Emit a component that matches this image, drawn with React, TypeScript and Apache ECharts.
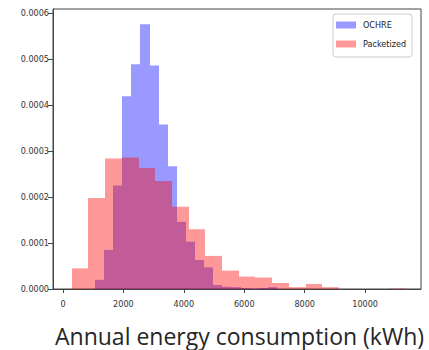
import React, { useEffect, useRef } from "react";
import * as echarts from "echarts";

// Histogram bin edges (kWh) and densities
const ochreEdges = [1060, 1361, 1662, 1963, 2264, 2565, 2866, 3167, 3468, 3769, 4070, 4371, 4672, 4973, 5274, 5575, 5876, 6177, 6478, 6779, 7080];
const ochreDensity = [0.00002, 0.000085, 0.000225, 0.000419, 0.000489, 0.000576, 0.000486, 0.000358, 0.000267, 0.000146, 0.000103, 0.000063, 0.000047, 0.0000087, 0.000005, 0.000004, 0.000002, 0.000001, 0.000002, 0.000004];
const packetEdges = [288, 841, 1394, 1947, 2500, 3053, 3606, 4159, 4712, 5265, 5818, 6371, 6924, 7477, 8030, 8583, 9136, 9689, 10242, 10795, 11348];
const packetDensity = [0.000045, 0.000198, 0.000284, 0.000286, 0.000263, 0.000235, 0.000179, 0.00013, 0.000072, 0.00004, 0.000027, 0.000025, 0.000013, 0.000004, 0.000011, 0.000004, 0, 0, 0, 0.000001];

const seriesNames = ["OCHRE", "Packetized"];
const xTicks = [0, 2000, 4000, 6000, 8000, 10000];
const yTicks = [0, 0.0001, 0.0002, 0.0003, 0.0004, 0.0005, 0.0006];
const xTitle = "Annual energy consumption (kWh)";

const COLORS = ["rgba(0,0,255,0.4)", "rgba(255,0,0,0.4)"];
const TICK_FONT = "'DejaVu Sans Condensed', 'Liberation Sans Narrow', 'Liberation Sans', sans-serif";

function bins(edges: number[], dens: number[]) {
  return dens.map((d, i) => [edges[i], edges[i + 1], d]);
}

function histSeries(name: string, data: number[][], color: string) {
  return {
    type: "custom",
    name,
    data,
    itemStyle: { color },
    encode: { x: [0, 1], y: 2 },
    renderItem: (_params: any, api: any) => {
      const x0 = api.value(0);
      const x1 = api.value(1);
      const h = api.value(2);
      const pTop = api.coord([x0, h]);
      const pBot = api.coord([x1, 0]);
      const left = Math.round(pTop[0]);
      const right = Math.round(pBot[0]);
      return {
        type: "rect",
        shape: {
          x: left,
          y: pTop[1],
          width: right - left,
          height: pBot[1] - pTop[1],
        },
        style: { fill: color },
      };
    },
  };
}

export default function App() {
  const ref = useRef<HTMLDivElement>(null);
  useEffect(() => {
    if (!ref.current) return;
    const chart = echarts.init(ref.current, undefined, { renderer: "svg" });
    chart.setOption({
      animation: false,
      backgroundColor: "#ffffff",
      grid: {
        left: 53,
        right: 8,
        top: 9,
        bottom: 61,
        show: true,
        borderColor: "#444",
        borderWidth: 1,
        backgroundColor: "transparent",
      },
      xAxis: {
        type: "value",
        min: -330,
        max: 11850,
        splitLine: { show: false },
        axisLine: { show: true, onZero: false, lineStyle: { color: "#444", width: 1 } },
        axisTick: { show: true, length: 4, customValues: xTicks, lineStyle: { color: "#444" } },
        axisLabel: {
          customValues: xTicks,
          margin: 10,
          fontSize: 9,
          color: "#333",
          fontFamily: TICK_FONT,
          formatter: (v: number) => String(v),
        },
      },
      yAxis: {
        type: "value",
        min: 0,
        max: 0.000609,
        splitLine: { show: false },
        axisLine: { show: true, onZero: false, lineStyle: { color: "#444", width: 1 } },
        axisTick: { show: true, length: 5, customValues: yTicks, lineStyle: { color: "#444" } },
        axisLabel: {
          customValues: yTicks,
          margin: 4,
          fontSize: 9,
          color: "#333",
          fontFamily: TICK_FONT,
          formatter: (v: number) => v.toFixed(4),
        },
      },
      legend: {
        data: seriesNames,
        orient: "vertical",
        left: 333,
        top: 14,
        icon: "rect",
        itemWidth: 20,
        itemHeight: 7,
        itemGap: 7,
        padding: [5, 6, 7, 3],
        borderColor: "#ccc",
        borderWidth: 1,
        borderRadius: 3,
        backgroundColor: "rgba(255,255,255,0.8)",
        textStyle: { fontSize: 9, color: "#222", fontFamily: TICK_FONT, lineHeight: 12, padding: [0, 0, 0, 2] },
      },
      graphic: [
        {
          type: "text",
          left: 55,
          top: 324,
          style: {
            text: xTitle,
            fontSize: 23,
            fontFamily: "'Open Sans', 'Noto Sans', sans-serif",
            fill: "#262626",
          },
        },
      ],
      series: [
        histSeries(seriesNames[0], bins(ochreEdges, ochreDensity), COLORS[0]),
        histSeries(seriesNames[1], bins(packetEdges, packetDensity), COLORS[1]),
      ],
    });
    return () => chart.dispose();
  }, []);
  return (
    <div
      ref={ref}
      style={{ position: "fixed", left: 0, top: 0, width: 429, height: 350, background: "#fff" }}
    />
  );
}
